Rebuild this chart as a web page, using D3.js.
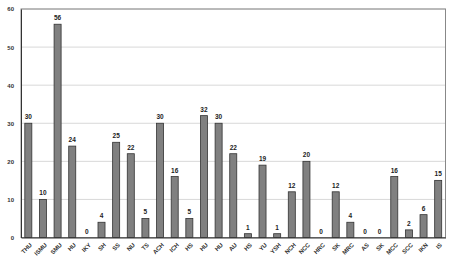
<!DOCTYPE html>
<html><head><meta charset="utf-8">
<script src="https://cdn.jsdelivr.net/npm/d3@7"></script>
<style>body{margin:0;background:#fff;position:relative}svg{display:block}
.xl{position:absolute;font:bold 6px "Liberation Sans",Arial,sans-serif;color:#333;white-space:nowrap;transform-origin:100% 50%;transform:translate(-100%,-50%) rotate(-45deg);line-height:1}
</style>
</head><body>
<div id="c" style="position:relative;width:450px;height:270px"></div>
<script>
const categories = ["THU","ISMU","SMU","HU","IKY","SH","SS","NU","TS","ACH","ICH","HS","HU","HU","AU","HS","YU","YSH","NCH","NCC","HRC","SK","MRC","AS","SK","MCC","SCC","IKN","IS"];
const values = [30,10,56,24,0,4,25,22,5,30,16,5,32,30,22,1,19,1,12,20,0,12,4,0,0,16,2,6,15];
const yTicks = [0,10,20,30,40,50,60];

const W=450,H=270, m={l:21,r:4.5,t:9,b:32.5};
const FONT="Liberation Sans, Arial, sans-serif";
const svg=d3.select("#c").append("svg").attr("width",W).attr("height",H);
const x=d3.scaleBand().domain(d3.range(categories.length)).range([m.l,W-m.r]).paddingInner(0.52).paddingOuter(0.26);
const y=d3.scaleLinear().domain([0,60]).range([H-m.b,m.t]);

svg.append("g").selectAll("line").data(yTicks.slice(1)).join("line")
  .attr("x1",m.l).attr("x2",W-m.r).attr("y1",d=>y(d)).attr("y2",d=>y(d))
  .attr("stroke","#d8d8d8").attr("stroke-width",1);

svg.append("rect").attr("x",m.l).attr("y",m.t).attr("width",W-m.r-m.l).attr("height",H-m.b-m.t)
  .attr("fill","none").attr("stroke","#888").attr("stroke-width",1);

svg.append("g").selectAll("rect").data(values).join("rect")
  .attr("x",(d,i)=>x(i)).attr("width",x.bandwidth())
  .attr("y",d=>y(d)).attr("height",d=>y(0)-y(d))
  .attr("fill","#808080").attr("stroke","#333").attr("stroke-width",0.8);

svg.append("g").selectAll("text").data(values).join("text")
  .attr("x",(d,i)=>x(i)+x.bandwidth()/2).attr("y",d=>y(d)-4)
  .attr("text-anchor","middle").attr("font-family",FONT)
  .attr("font-size",6.5).attr("font-weight","bold").attr("fill","#222").text(d=>d);

const yAxis=svg.append("g").attr("transform",`translate(${m.l},0)`)
  .call(d3.axisLeft(y).tickValues(yTicks).tickSize(0).tickPadding(7));
yAxis.select(".domain").attr("stroke","#333");
yAxis.selectAll("text").attr("font-family",FONT).attr("font-size",6).attr("font-weight","bold").attr("fill","#333");

const xAxis=svg.append("g").attr("transform",`translate(0,${H-m.b})`)
  .call(d3.axisBottom(x).tickFormat("").tickSize(0));
xAxis.select(".domain").attr("stroke","#333");

d3.select("#c").selectAll("div.xl").data(categories).join("div").attr("class","xl")
  .style("left",(d,i)=>(x(i)+x.bandwidth()/2+3)+"px")
  .style("top",(H-m.b+6)+"px")
  .text(d=>d);
</script>
</body></html>
